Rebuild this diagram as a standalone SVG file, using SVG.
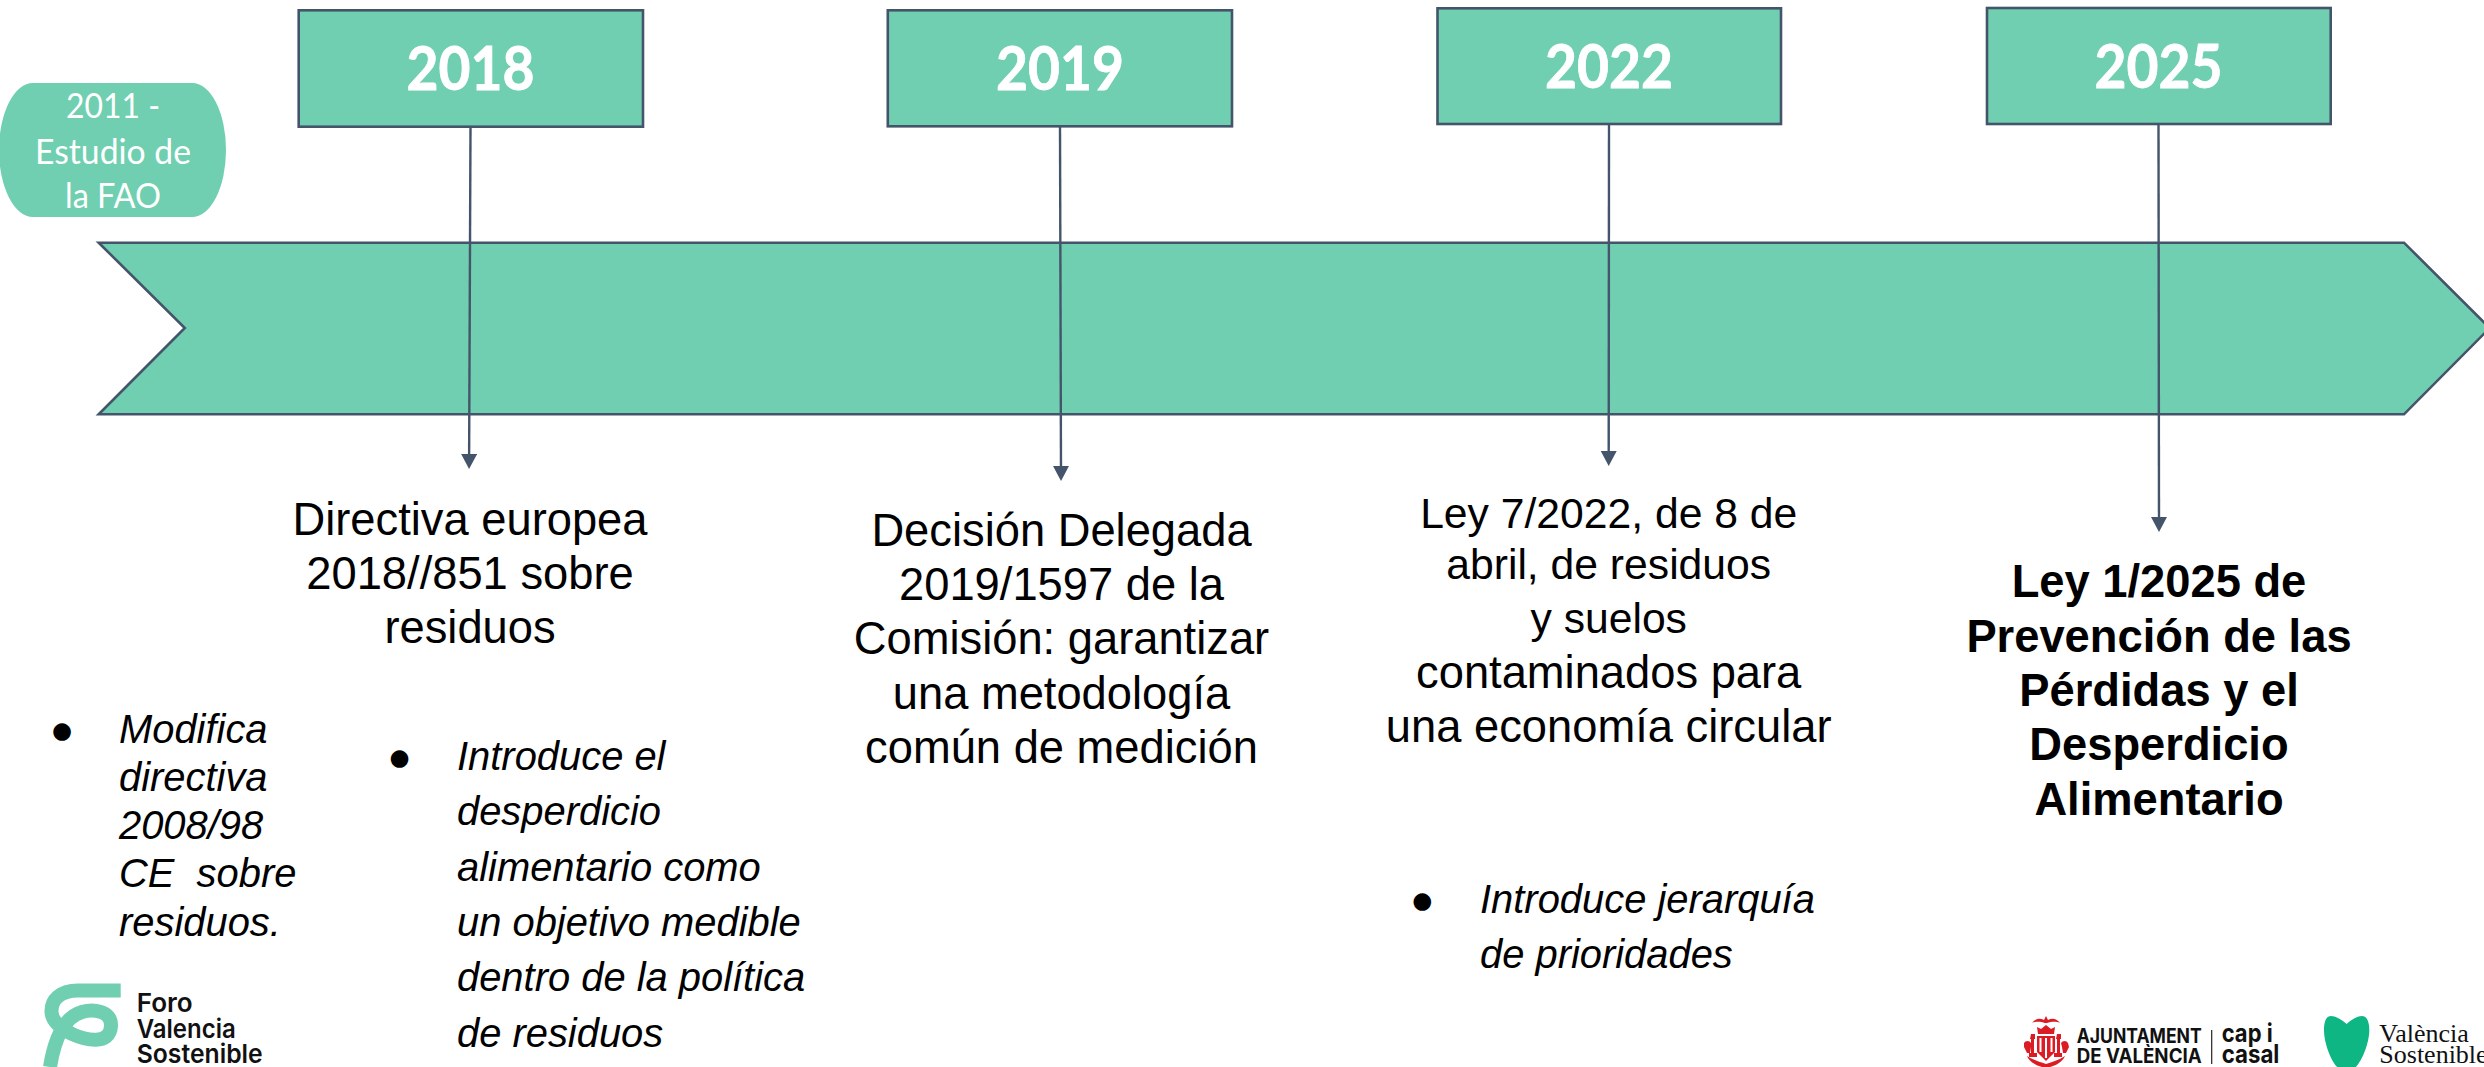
<svg xmlns="http://www.w3.org/2000/svg" width="2484" height="1067" viewBox="0 0 2484 1067">
<defs>
<style>
.box{fill:#70CFB0;stroke:#44546A;stroke-width:2.6}
.yr{font-family:Lato,"Open Sans",sans-serif;font-weight:700;font-size:61px;fill:#fff;stroke:#fff;stroke-width:.8;text-anchor:middle}
.pl{font-family:Lato,"Open Sans",sans-serif;font-size:34px;fill:#fff;text-anchor:middle}
.m{font-family:"Liberation Sans",Arial,sans-serif;font-size:45.3px;fill:#000;text-anchor:middle}
.b{font-weight:700}
.i{font-family:"Liberation Sans",Arial,sans-serif;font-style:italic;font-size:39.9px;fill:#000}
.d{font-family:"DejaVu Sans",sans-serif;font-size:23px;fill:#000;text-anchor:middle}
.c{fill:none;stroke:#44546A;stroke-width:2.4}
.fv{font-family:Inter,"Liberation Sans",sans-serif;font-weight:600;font-size:26px;fill:#111}
.aj{font-family:Inter,"Liberation Sans",sans-serif;font-weight:700;font-size:20px;fill:#111}
.cc{font-family:Inter,"Liberation Sans",sans-serif;font-weight:700;font-size:25px;fill:#111}
.vs{font-family:"Liberation Serif",serif;font-size:26px;fill:#111}
.cr{fill:#DC1C24}
</style>
<marker id="ah" markerUnits="userSpaceOnUse" markerWidth="16" markerHeight="16" refX="7" refY="8" orient="auto"><path d="M0 0L15 8L0 16z" fill="#44546A"/></marker>
</defs>
<rect width="2484" height="1067" fill="#fff"/>
<g id="banner"><path class="box" d="M98.7 242.7H2404L2489.7 328L2404 414.3H98.7L184.8 328z"/></g>
<g id="start-2011">
<rect x="-1" y="83" width="227" height="134" rx="34" ry="67" fill="#70CFB0"/>
<text class="pl" x="113" y="117.5" textLength="94" lengthAdjust="spacingAndGlyphs">2011 -</text>
<text class="pl" x="113" y="163.5" textLength="156" lengthAdjust="spacingAndGlyphs">Estudio de</text>
<text class="pl" x="113" y="208.3" textLength="96" lengthAdjust="spacingAndGlyphs">la FAO</text>
</g>
<g id="year-2018"><rect class="box" x="298.7" y="10.3" width="344.3" height="116.4"/><text class="yr" x="470.5" y="90" textLength="128" lengthAdjust="spacingAndGlyphs">2018</text></g>
<g id="year-2019"><rect class="box" x="887.8" y="10.3" width="344.2" height="116"/><text class="yr" x="1060" y="90" textLength="128" lengthAdjust="spacingAndGlyphs">2019</text></g>
<g id="year-2022"><rect class="box" x="1437.5" y="8.3" width="343.5" height="115.7"/><text class="yr" x="1609" y="88" textLength="128" lengthAdjust="spacingAndGlyphs">2022</text></g>
<g id="year-2025"><rect class="box" x="1987" y="8" width="343.7" height="116"/><text class="yr" x="2158.5" y="88" textLength="128" lengthAdjust="spacingAndGlyphs">2025</text></g>
<g id="connectors">
<path class="c" marker-end="url(#ah)" d="M470.5 126.7L469.1 461"/>
<path class="c" marker-end="url(#ah)" d="M1060 126.3L1061 473"/>
<path class="c" marker-end="url(#ah)" d="M1609 124L1608.7 458"/>
<path class="c" marker-end="url(#ah)" d="M2158.5 124L2159 524"/>
</g>
<g id="text-2018">
<text class="m" x="470" y="534.5">Directiva europea</text>
<text class="m" x="470" y="588.8">2018//851 sobre</text>
<text class="m" x="470" y="643.2">residuos</text>
</g>
<g id="text-2019">
<text class="m" x="1061.5" y="545.5">Decisión Delegada</text>
<text class="m" x="1061.5" y="599.8">2019/1597 de la</text>
<text class="m" x="1061.5" y="654.2">Comisión: garantizar</text>
<text class="m" x="1061.5" y="708.8">una metodología</text>
<text class="m" x="1061.5" y="763.2">común de medición</text>
</g>
<g id="text-2022">
<text class="m" x="1608.7" y="528" style="font-size:42.67px">Ley 7/2022, de 8 de</text>
<text class="m" x="1608.7" y="579" style="font-size:42.67px">abril, de residuos</text>
<text class="m" x="1608.7" y="632.5" style="font-size:42.67px">y suelos</text>
<text class="m" x="1608.7" y="687.5">contaminados para</text>
<text class="m" x="1608.7" y="741.5">una economía circular</text>
</g>
<g id="text-2025">
<text class="m b" x="2159" y="596.5">Ley 1/2025 de</text>
<text class="m b" x="2159" y="651.5">Prevención de las</text>
<text class="m b" x="2159" y="705.8">Pérdidas y el</text>
<text class="m b" x="2159" y="760.2">Desperdicio</text>
<text class="m b" x="2159" y="814.8">Alimentario</text>
</g>
<g id="list-modifica">
<text class="d" x="62" y="738">●</text>
<text class="i" x="119" y="743">Modifica</text>
<text class="i" x="119" y="791">directiva</text>
<text class="i" x="119" y="839">2008/98</text>
<text class="i" x="119" y="887" xml:space="preserve">CE  sobre</text>
<text class="i" x="119" y="935.5">residuos.</text>
</g>
<g id="list-introduce">
<text class="d" x="399.6" y="765">●</text>
<text class="i" x="457" y="769.5">Introduce el</text>
<text class="i" x="457" y="824.5">desperdicio</text>
<text class="i" x="457" y="880.5">alimentario como</text>
<text class="i" x="457" y="935.5">un objetivo medible</text>
<text class="i" x="457" y="990.5">dentro de la política</text>
<text class="i" x="457" y="1046.5">de residuos</text>
</g>
<g id="list-jerarquia">
<text class="d" x="1422.3" y="908">●</text>
<text class="i" x="1480" y="913">Introduce jerarquía</text>
<text class="i" x="1480" y="968">de prioridades</text>
</g>
<g id="logo-foro">
<path d="M120.7 990.5H78C60 990.5 51 1000 51.5 1012C52 1022 62 1029 72 1034C85 1040 110 1046 111 1026C112 1010 92 1009 82 1012C68 1016 56 1030 50 1067" fill="none" stroke="#70CFB0" stroke-width="14"/>
<text class="fv" x="136.7" y="1011.7" textLength="56" lengthAdjust="spacingAndGlyphs">Foro</text>
<text class="fv" x="136.7" y="1037.7" textLength="99" lengthAdjust="spacingAndGlyphs">Valencia</text>
<text class="fv" x="136.7" y="1063.3" textLength="126" lengthAdjust="spacingAndGlyphs">Sostenible</text>
</g>
<g id="logo-ajuntament">
<g class="cr">
<path d="M2046 1016L2048 1020C2052 1018 2056 1018 2060 1023C2055 1021 2051 1022 2047 1023H2045C2041 1022 2037 1021 2032 1023C2036 1018 2040 1018 2044 1020z"/>
<path d="M2037 1027L2041 1029L2046 1025L2051 1029L2055 1027L2054 1034H2038z"/>
<path d="M2037 1036H2055V1052L2046 1061L2037 1052z"/>
<path d="M2031 1034h4v5h-1v14h3v4h-8v-4h2v-14h-1z"/>
<path d="M2057 1034h4v5h-1v14h2v4h-8v-4h3v-14h-1z"/>
<path d="M2024 1043a4 4 0 0 1 7 0v4l-1 6h-3l-3-6z"/>
<path d="M2061 1043a4 4 0 0 1 7 0l1 4-3 6h-3l-1-6z"/>
<path d="M2027 1056C2033 1060 2040 1062 2046 1064C2052 1062 2059 1060 2065 1056C2062 1063 2054 1066 2050 1067H2042C2038 1066 2030 1063 2027 1056z"/>
</g>
<path d="M2040.5 1038V1052M2046 1038V1058M2051.5 1038V1052" stroke="#fff" stroke-width="2" fill="none"/>
<text class="aj" x="2076.7" y="1043.3" textLength="125" lengthAdjust="spacingAndGlyphs">AJUNTAMENT</text>
<text class="aj" x="2076.7" y="1063.3" textLength="125" lengthAdjust="spacingAndGlyphs">DE VALÈNCIA</text>
<path d="M2211.7 1030V1064" stroke="#222" stroke-width="1.2"/>
<text class="cc" x="2221.7" y="1042" textLength="51" lengthAdjust="spacingAndGlyphs">cap i</text>
<text class="cc" x="2221.7" y="1063.3" textLength="57.7" lengthAdjust="spacingAndGlyphs">casal</text>
</g>
<g id="logo-valencia-sostenible">
<path d="M2346.7 1024C2342 1020 2336 1016 2331 1016C2326 1016 2324 1022 2324 1030C2324 1045 2333 1066 2340 1069H2353C2360 1066 2369.3 1045 2369.3 1030C2369.3 1022 2367 1016 2362 1016C2357 1016 2351 1020 2346.7 1024z" fill="#0DB683"/>
<text class="vs" x="2379.3" y="1041.7">València</text>
<text class="vs" x="2379.3" y="1063.3">Sostenible</text>
</g>
</svg>
